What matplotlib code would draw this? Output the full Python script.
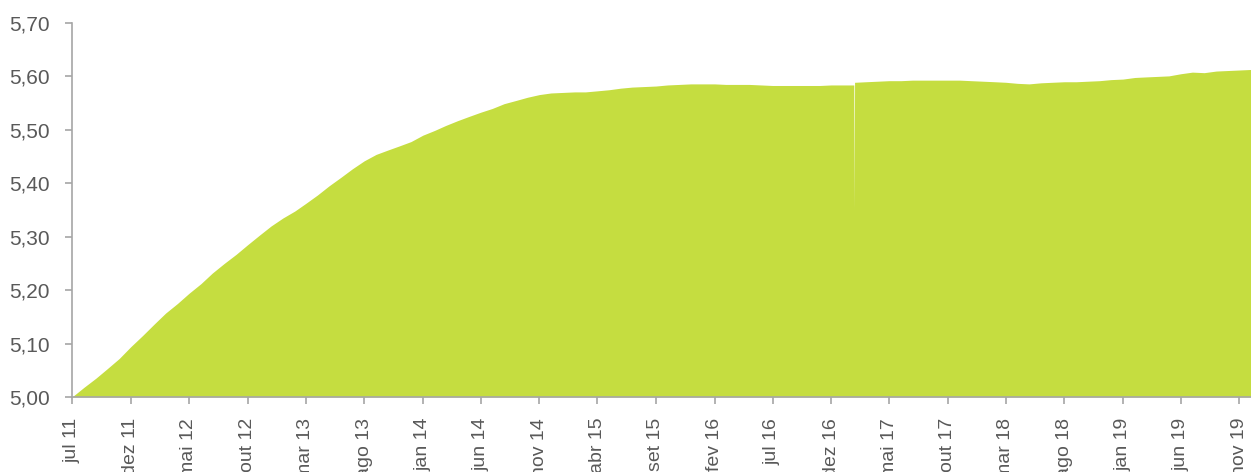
import matplotlib.pyplot as plt
import numpy as np
import pandas as pd

# monthly readings, jul 2011 .. dez 2019
start_month = '2011-07-01'
values = [
    5.000, 5.018, 5.035, 5.053, 5.072, 5.094, 5.115, 5.137, 5.157, 5.175,
    5.194, 5.212, 5.232, 5.250, 5.267, 5.285, 5.303, 5.320, 5.335, 5.348,
    5.362, 5.378, 5.395, 5.411, 5.427, 5.442, 5.454, 5.462, 5.470, 5.478,
    5.490, 5.499, 5.508, 5.517, 5.525, 5.533, 5.540, 5.549, 5.555, 5.561,
    5.566, 5.569, 5.570, 5.571, 5.571, 5.573, 5.575, 5.578, 5.580, 5.581,
    5.582, 5.584, 5.585, 5.586, 5.586, 5.586, 5.585, 5.585, 5.585, 5.584,
    5.583, 5.583, 5.583, 5.583, 5.583, 5.584, 5.584, 5.589, 5.590, 5.591,
    5.592, 5.592, 5.593, 5.593, 5.593, 5.593, 5.593, 5.592, 5.591, 5.590,
    5.589, 5.587, 5.586, 5.588, 5.589, 5.590, 5.590, 5.591, 5.592, 5.594,
    5.595, 5.598, 5.599, 5.600, 5.601, 5.605, 5.608, 5.607, 5.610, 5.611,
    5.612, 5.613,
]

# one-day drop at the end of jan 2017
dip_dates = ['2017-01-29', '2017-01-30', '2017-01-31']
dip_values = [5.584, 5.35, 5.589]

tick_dates = ['2011-07-01', '2011-12-01', '2012-05-01', '2012-10-01', '2013-03-01',
              '2013-08-01', '2014-01-01', '2014-06-01', '2014-11-01', '2015-04-01',
              '2015-09-01', '2016-02-01', '2016-07-01', '2016-12-01', '2017-05-01',
              '2017-10-01', '2018-03-01', '2018-08-01', '2019-01-01', '2019-06-01',
              '2019-11-01']
tick_labels = ['jul 11', 'dez 11', 'mai 12', 'out 12', 'mar 13', 'ago 13', 'jan 14',
               'jun 14', 'nov 14', 'abr 15', 'set 15', 'fev 16', 'jul 16', 'dez 16',
               'mai 17', 'out 17', 'mar 18', 'ago 18', 'jan 19', 'jun 19', 'nov 19']

if __name__ == '__main__':

    plt.rcParams['font.family'] = ['Liberation Sans', 'DejaVu Sans']

    s = pd.Series(values, index=pd.date_range(start_month, periods=len(values), freq='MS'))
    s = pd.concat([s, pd.Series(dip_values, index=pd.to_datetime(dip_dates))]).sort_index()

    fig = plt.figure(figsize=(12.51, 4.72), dpi=100)
    ax = fig.add_axes([0.0576, 0.159, 0.9424, 0.7923])

    ax.fill_between(s.index, 5.0, s.values, color='#C5DD40', lw=0)

    ax.set_ylim(5.0, 5.7)
    ax.set_xlim(s.index[0], s.index[-1])
    yt = np.arange(5.0, 5.71, 0.1)
    ax.set_yticks(yt)
    ax.set_yticklabels([f'{v:.2f}'.replace('.', ',') for v in yt], fontsize=15)
    ax.set_xticks(pd.to_datetime(tick_dates))
    ax.set_xticklabels(tick_labels, rotation=90, va='top', ha='center', fontsize=14)

    for side in ['top', 'right']:
        ax.spines[side].set_visible(False)
    for side in ['left', 'bottom']:
        ax.spines[side].set_color('#A6A6A6')
        ax.spines[side].set_linewidth(1.2)

    ax.tick_params(axis='both', colors='#A6A6A6', labelcolor='#595959',
                   length=5, width=1.2)
    ax.tick_params(axis='y', pad=11)
    ax.tick_params(axis='x', pad=10)

    plt.savefig('out.png', dpi=100)
